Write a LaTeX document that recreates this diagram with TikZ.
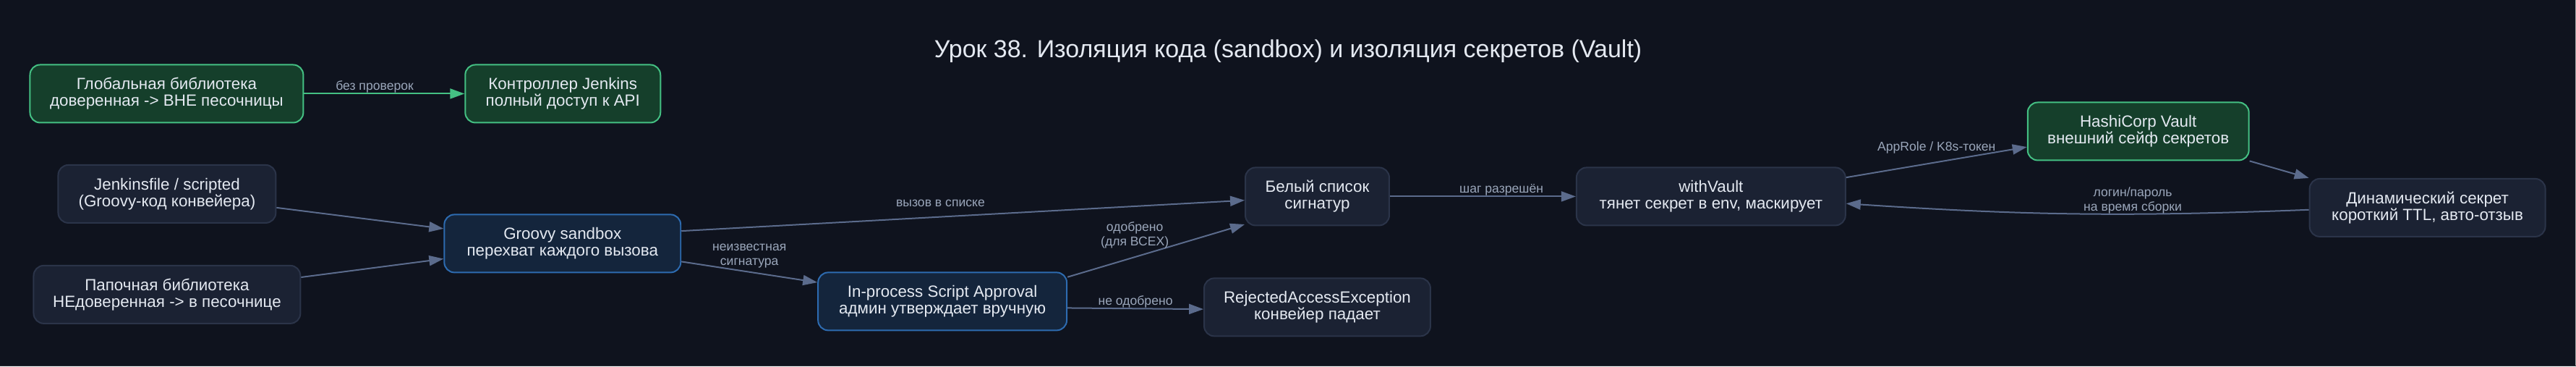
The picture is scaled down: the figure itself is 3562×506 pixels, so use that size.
\documentclass[tikz,border=0pt]{standalone}
\usepackage{fontspec}
\setmainfont{Liberation Sans}
\usetikzlibrary{arrows.meta}

\definecolor{bgc}{HTML}{0F131E}
\definecolor{txt}{HTML}{E4E9F1}
\definecolor{lbltxt}{HTML}{9AA6BA}
\definecolor{edgec}{HTML}{5B6B8C}
\definecolor{grayfl}{HTML}{1B2233}
\definecolor{grayln}{HTML}{2B3449}
\definecolor{greenfl}{HTML}{153F2B}
\definecolor{greenln}{HTML}{44C083}
\definecolor{bluefl}{HTML}{14253C}
\definecolor{blueln}{HTML}{2D6BB0}

\begin{document}
\begin{tikzpicture}[
  x=0.5pt, y=-0.5pt,
  font=\fontsize{11.2}{11.5}\selectfont,
  box/.style={rectangle, rounded corners=7pt, line width=1pt, minimum height=40pt,
              inner sep=0pt, align=center, text=txt},
  plain/.style={box, draw=grayln, fill=grayfl},
  safe/.style={box, draw=greenln, fill=greenfl},
  sand/.style={box, draw=blueln, fill=bluefl},
  arr/.style={-{Triangle[length=10pt, width=7pt]}, line width=1pt, draw=edgec},
  lbl/.style={font=\fontsize{8.8}{10}\selectfont, text=lbltxt, inner sep=0pt, align=center}
]
% background
\fill[bgc] (0,0) rectangle (3562,506);
\draw[line width=0.5pt, color=gray!70] (3561.5,0) -- (3561.5,506);
\draw[line width=0.5pt, color=gray!25!bgc] (0,505.5) -- (3562,505.5);

% title
\node[font=\fontsize{17}{20}\selectfont, text=txt] (title) at (1781,70)
  {Урок 38. Изоляция кода (sandbox) и изоляция секретов (Vault)};

% trusted library
\node[safe, minimum width=189pt] (gl) at (230,129) {Глобальная библиотека\\доверенная -> ВНЕ песочницы};
\node[safe, minimum width=135pt] (jc) at (778,129) {Контроллер Jenkins\\полный доступ к API};

% pipeline code
\node[plain, minimum width=150.5pt] (jf) at (230.5,267.5) {Jenkinsfile / scripted\\(Groovy-код конвейера)};
\node[plain, minimum width=184.5pt] (fl) at (230.5,406.5) {Папочная библиотека\\НЕдоверенная -> в песочнице};

% sandbox
\node[sand, minimum width=163.5pt] (sb) at (777.5,336) {Groovy sandbox\\перехват каждого вызова};
\node[sand, minimum width=172pt] (ap) at (1303,416) {In-process Script Approval\\админ утверждает вручную};
\node[plain, minimum width=99.5pt] (wl) at (1821.5,271) {Белый список\\сигнатур};
\node[plain, minimum width=156.5pt] (rj) at (1821.5,424) {RejectedAccessException\\конвейер падает};

% vault
\node[plain, minimum width=186pt] (wv) at (2366,271) {withVault\\тянет секрет в env, маскирует};
\node[safe, minimum width=153pt] (hv) at (2957,181) {HashiCorp Vault\\внешний сейф секретов};
\node[plain, minimum width=163pt] (ds) at (3357,286.5) {Динамический секрет\\короткий TTL, авто-отзыв};

% edges
\draw[arr, draw=greenln] (gl) -- node[lbl, pos=0.44, above] {без проверок} (jc);
\draw[arr] (jf) -- (sb);
\draw[arr] (fl) -- (sb);
\draw[arr] (sb.6) -- node[lbl, pos=0.46, above=6.5pt] {вызов в списке} (wl.183);
\draw[arr] (sb) -- node[lbl, midway, above=2.5pt] {неизвестная\\сигнатура} (ap);
\draw[arr] (ap.11) -- node[lbl, pos=0.38, above=5.5pt] {одобрено\\(для ВСЕХ)} (wl.201);
\draw[arr] (ap.-3) -- node[lbl, midway, above] {не одобрено} (rj.181);
\draw[arr] (wl) -- node[lbl, pos=0.6, above] {шаг разрешён} (wv);
\draw[arr] (wv.8.6) -- node[lbl, midway, above=5.5pt] {AppRole / K8s-токен} (hv.188.5);
\draw[arr] (hv.south east) -- (ds.north west);
\draw[arr] (ds.181) to[bend left=3] node[lbl, pos=0.37, above] {логин/пароль\\на время сборки} (wv.-3);
\end{tikzpicture}
\end{document}
